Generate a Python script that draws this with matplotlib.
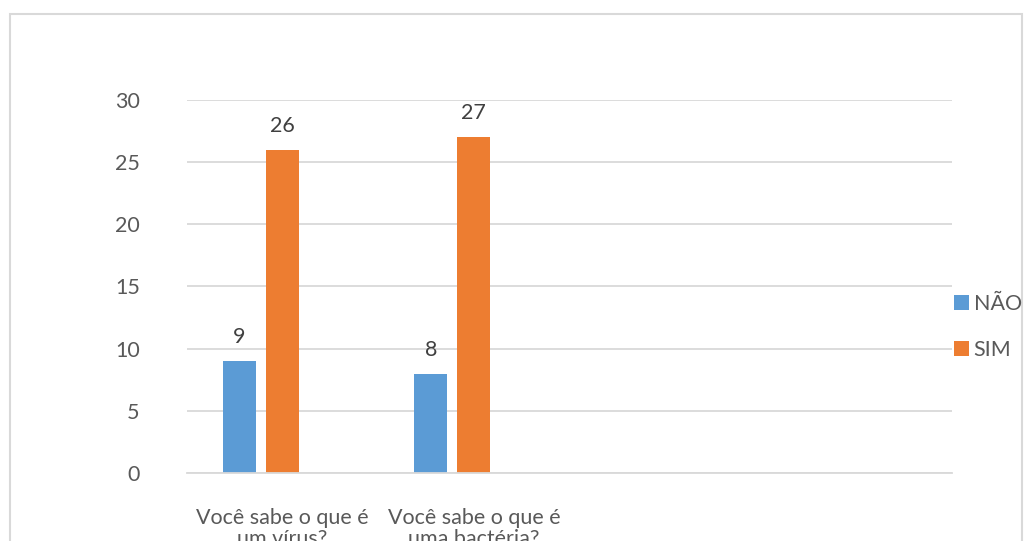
import matplotlib.pyplot as plt
import numpy as np
from matplotlib.patches import Rectangle

categories = ['Você sabe o que é\num vírus?', 'Você sabe o que é\numa bactéria?', '', '']
nao = [9, 8]
sim = [26, 27]

blue = '#5B9BD5'
orange = '#ED7D31'
grid_c = '#D9D9D9'
text_c = '#595959'

plt.rcParams['font.family'] = ['Lato', 'DejaVu Sans']

fig = plt.figure(figsize=(10.32, 5.41), dpi=100)
ax = fig.add_axes([0.1812, 0.1257, 0.7413, 0.6895])

x = np.arange(len(categories))
w = 0.173
b1 = ax.bar(x[:len(nao)] - 0.225, nao, w, color=blue, label='NÃO')
b2 = ax.bar(x[:len(sim)], sim, w, color=orange, label='SIM')
ax.bar_label(b1, padding=10, fontsize=15.5, color='#404040')
ax.bar_label(b2, padding=10, fontsize=15.5, color='#404040')

ax.set_xlim(-0.5, len(categories) - 0.5)
ax.set_ylim(0, 30)
ax.set_yticks(range(0, 31, 5))
ax.set_xticks(x)
ax.set_xticklabels(categories, fontsize=15.5, color=text_c, linespacing=1.1,
                   multialignment='center')
ax.tick_params(axis='y', labelsize=15.5, labelcolor=text_c, length=0, pad=34)
ax.tick_params(axis='x', length=0, pad=25)
ax.grid(axis='y', color=grid_c, linewidth=1.3)
ax.set_axisbelow(True)
for s in ['top', 'right', 'left']:
    ax.spines[s].set_visible(False)
ax.spines['bottom'].set_color(grid_c)
ax.spines['bottom'].set_linewidth(1.3)

fig.legend(handles=[b1, b2], loc='center left', bbox_to_anchor=(0.906, 0.395),
           frameon=False, fontsize=15.5, labelcolor=text_c, handlelength=0.7,
           handleheight=0.7, handletextpad=0.2, labelspacing=1.2)

fig.patches.append(Rectangle((10 / 1032, -0.1), 1012 / 1032, 1.1 - 14 / 541,
                             transform=fig.transFigure, fill=False,
                             edgecolor='#D9D9D9', linewidth=1.5))

fig.savefig('out.png', dpi=100)
